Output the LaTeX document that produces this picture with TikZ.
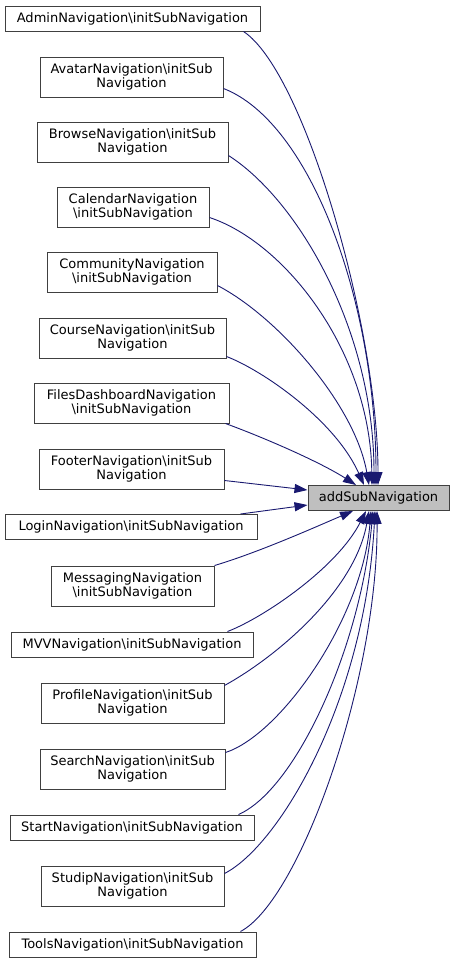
\documentclass[tikz,border=0pt]{standalone}
\usepackage{fontspec}
\setmainfont{DejaVu Sans}
\usetikzlibrary{arrows.meta}
\definecolor{cEdge}{HTML}{191970}
\definecolor{cBorder}{HTML}{404040}
\definecolor{cTarget}{HTML}{BFBFBF}
\newcommand{\bsl}{\textbackslash}
\tikzset{
  callerbox/.style={
    draw=cBorder, fill=white, line width=1pt,
    minimum width=#1, minimum height=25pt,
    inner xsep=2pt, inner ysep=2pt,
    font=\fontsize{13}{14}\selectfont, align=center,
  },
  callerbox/.default=180pt,
  tallbox/.style={callerbox=#1, minimum height=40pt},
  targetbox/.style={
    draw=cBorder, fill=cTarget, line width=1pt,
    minimum width=141pt, minimum height=25pt,
    font=\fontsize{13}{14}\selectfont,
  },
  calledge/.style={-{Triangle[length=13pt, width=9pt]}, draw=cEdge, line width=0.9pt},
}
\begin{document}
\begin{tikzpicture}[x=1pt, y=-1pt]

  \useasboundingbox (0,0) rectangle (455,964);

  % called function
  \node[targetbox] (addsub) at (378.5,498) {addSubNavigation};

  % callers
  \node[callerbox=255pt] (admin) at (132.5,18.5) {AdminNavigation\bsl initSubNavigation};
  \node[tallbox=183pt] (avatar) at (131.5,77) {AvatarNavigation\bsl initSub\\Navigation};
  \node[tallbox=191pt] (browse) at (132.5,142) {BrowseNavigation\bsl initSub\\Navigation};
  \node[tallbox=152pt] (calendar) at (133,207) {CalendarNavigation\\\bsl initSubNavigation};
  \node[tallbox=170pt] (community) at (132,272) {CommunityNavigation\\\bsl initSubNavigation};
  \node[tallbox=187pt] (course) at (132.5,338) {CourseNavigation\bsl initSub\\Navigation};
  \node[tallbox=195pt] (files) at (131.5,403) {FilesDashboardNavigation\\\bsl initSubNavigation};
  \node[tallbox=185pt] (footer) at (131.5,469) {FooterNavigation\bsl initSub\\Navigation};
  \node[callerbox=252pt] (login) at (131,527) {LoginNavigation\bsl initSubNavigation};
  \node[tallbox=163pt] (messaging) at (132.5,586) {MessagingNavigation\\\bsl initSubNavigation};
  \node[callerbox=242pt] (mvv) at (132,644.5) {MVVNavigation\bsl initSubNavigation};
  \node[tallbox=183pt] (profile) at (132.5,703) {ProfileNavigation\bsl initSub\\Navigation};
  \node[tallbox=185pt] (search) at (132.5,769) {SearchNavigation\bsl initSub\\Navigation};
  \node[callerbox=244pt] (start) at (132,827.5) {StartNavigation\bsl initSubNavigation};
  \node[tallbox=183pt] (studip) at (132.5,886) {StudipNavigation\bsl initSub\\Navigation};
  \node[callerbox=247pt] (tools) at (132.5,944.5) {ToolsNavigation\bsl initSubNavigation};

  % edges into the top
  \draw[calledge] ([xshift=-17pt]admin.south east) .. controls (305,72) and (378,330) .. ([xshift=-0.5pt]addsub.north);
  \draw[calledge] ([yshift=9pt]avatar.south east) .. controls (310,122) and (376,300) .. ([xshift=-2.5pt]addsub.north);
  \draw[calledge] ([yshift=7pt]browse.south east) .. controls (298,200) and (374,330) .. ([xshift=-4.5pt]addsub.north);
  \draw[calledge] ([yshift=10pt]calendar.south east) .. controls (284,242) and (370,350) .. ([xshift=-6.5pt]addsub.north);
  \draw[calledge] ([yshift=7pt]community.south east) .. controls (278,317) and (355,405) .. ([xshift=-9.5pt]addsub.north);
  \draw[calledge] ([yshift=2pt]course.south east) .. controls (262,370) and (335,420) .. ([xshift=-14.5pt]addsub.north);
  \draw[calledge] ([xshift=-4pt]files.south east) .. controls (265,438) and (320,462) .. ([xshift=-22.5pt]addsub.north);

  % edges into the left side
  \draw[calledge] ([yshift=9pt]footer.south east) -- ([yshift=8pt]addsub.west);
  \draw[calledge] ([xshift=-17pt]login.north east) -- ([yshift=-7pt]addsub.west);

  % edges into the bottom
  \draw[calledge] (messaging.north east) .. controls (260,552) and (320,525) .. ([xshift=-25.5pt]addsub.south);
  \draw[calledge] ([xshift=-26pt]mvv.north east) .. controls (263,618) and (337,568) .. ([xshift=-12.5pt]addsub.south);
  \draw[calledge] ([yshift=-3pt]profile.north east) .. controls (278,656) and (355,590) .. ([xshift=-9.5pt]addsub.south);
  \draw[calledge] ([yshift=-4pt]search.north east) .. controls (280,735) and (362,620) .. ([xshift=-7.5pt]addsub.south);
  \draw[calledge] ([xshift=-16pt]start.north east) .. controls (295,790) and (360,650) .. ([xshift=-5.5pt]addsub.south);
  \draw[calledge] ([yshift=-8pt]studip.north east) .. controls (280,845) and (365,700) .. ([xshift=-3.5pt]addsub.south);
  \draw[calledge] ([xshift=-16pt]tools.north east) .. controls (300,900) and (378,680) .. ([xshift=-1.5pt]addsub.south);

\end{tikzpicture}
\end{document}
